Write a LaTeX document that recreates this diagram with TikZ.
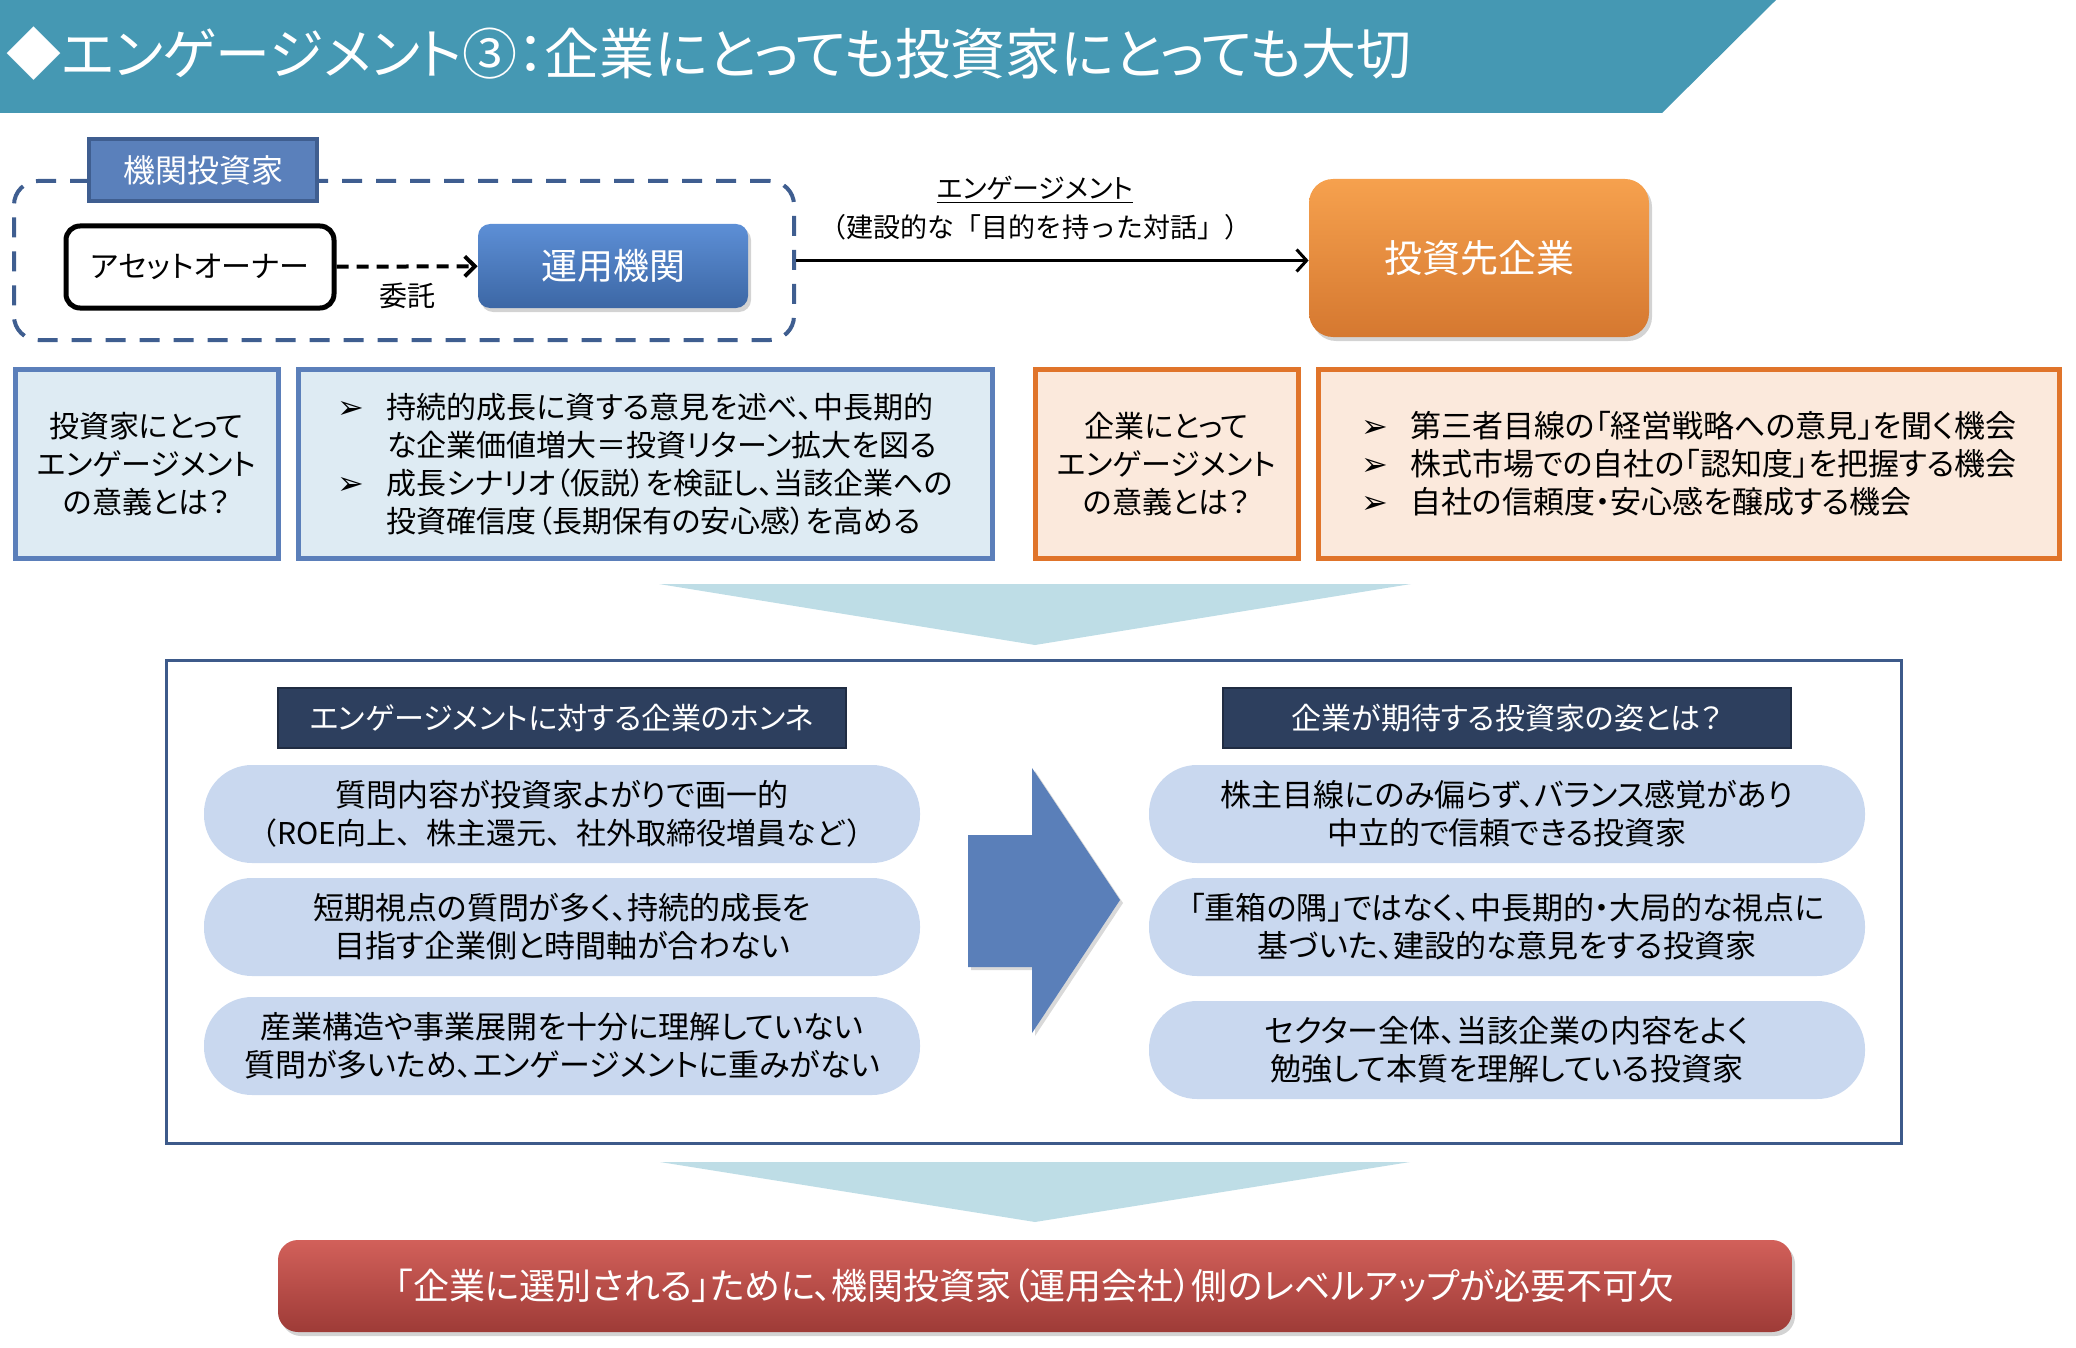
\documentclass[tikz,border=0pt]{standalone}
\usepackage{fontspec}
\setmainfont{Noto Sans CJK JP}[RawFeature=+palt]
\newfontfamily\fwfont{Noto Sans CJK JP}
\newfontfamily\dingfont{DejaVu Sans}
\usetikzlibrary{arrows.meta,shadows}
\definecolor{titleblue}{HTML}{4598B3}
\definecolor{grpline}{HTML}{3F5E90}
\definecolor{lblfill}{HTML}{5A80BB}
\definecolor{mgrtop}{HTML}{5D8FD6}
\definecolor{mgrbot}{HTML}{3C67A5}
\definecolor{firmtop}{HTML}{F6A14E}
\definecolor{firmbot}{HTML}{D57830}
\definecolor{invfill}{HTML}{DEEBF3}
\definecolor{invline}{HTML}{5B7FBA}
\definecolor{cofill}{HTML}{FBE9DC}
\definecolor{coline}{HTML}{E0742A}
\definecolor{chevcol}{HTML}{BEDDE6}
\definecolor{mainline}{HTML}{3D5A8A}
\definecolor{navy}{HTML}{2D3F5E}
\definecolor{pillcol}{HTML}{C9D8EF}
\definecolor{bigarrow}{HTML}{5A7FB9}
\definecolor{redtop}{HTML}{D2605A}
\definecolor{redmid}{HTML}{C24F4A}
\definecolor{redbot}{HTML}{9E3B37}
\newcommand{\fsz}[2]{\fontsize{#1}{#2}\selectfont}
\newcommand{\blt}{\makebox[24.5pt][l]{\dingfont\fsz{16pt}{19pt}➢}}
\newcommand{\ind}{\hspace*{24.5pt}}
\begin{document}
\begin{tikzpicture}[x=0.5pt, y=-0.5pt, font=\fsz{15pt}{19pt},
  qbox/.style={draw=invline, fill=invfill, line width=2.5pt, align=center, inner sep=0pt},
  cobox/.style={qbox, draw=coline, fill=cofill},
  hdr/.style={fill=navy, draw=navy!70!black, line width=1pt, text=white, minimum width=284pt, minimum height=30pt},
  pillbox/.style={fill=pillcol, rounded corners=24pt, minimum width=358pt, minimum height=49pt, align=center, font=\fsz{15.5pt}{19pt}},
  shad/.style={drop shadow={opacity=0.35, shadow xshift=1.5pt, shadow yshift=-2pt}}]
\useasboundingbox (0,0) rectangle (2076,1348);
% title bar
\fill[titleblue] (0,0) -- (1776,0) -- (1662,113) -- (0,113) -- cycle;
\node[anchor=west, text=white, font=\fsz{27.5pt}{32pt}, inner sep=0pt] (title) at (6,54) {◆エンゲージメント③：企業にとっても投資家にとっても大切};
% investor side
\node[draw=grpline, line width=2pt, dash pattern=on 10pt off 7pt, rounded corners=12pt, minimum width=390pt, minimum height=79.5pt] (grp) at (404,260.5) {};
\node[fill=lblfill, draw=grpline, line width=2pt, minimum width=114pt, minimum height=31pt, text=white, font=\fsz{16pt}{20pt}] (lbl) at (203,170.5) {機関投資家};
\node[draw, line width=2.5pt, rounded corners=7pt, fill=white, minimum width=134pt, minimum height=41pt, font=\fsz{15pt}{18pt}] (own) at (200,267) {アセットオーナー};
\node[shad, rounded corners=6pt, top color=mgrtop, bottom color=mgrbot, minimum width=135pt, minimum height=42pt, text=white, font=\fsz{18pt}{22pt}] (mgr) at (613,266) {運用機関};
\draw[line width=2pt, dash pattern=on 6pt off 4pt, -{Straight Barb[length=5pt,width=10pt]}] (own) -- (mgr) node[midway, below=4pt, font=\fsz{14pt}{18pt}] (dlg) {委託};
% company
\node[shad, rounded corners=12pt, top color=firmtop, bottom color=firmbot, minimum width=170pt, minimum height=79pt, text=white, font=\fsz{19pt}{23pt}] (firm) at (1479,258) {投資先企業};
\draw[line width=1.5pt, -{Straight Barb[length=5pt,width=11pt]}] (grp.east) -- (grp.east -| firm.west);
\node[font=\fsz{13.5pt}{19.5pt}, align=center] (eng) at (1035,208) {\underline{エンゲージメント}\\{\fwfont （建設的な「目的を持った対話」）}};
% meaning boxes
\node[qbox, minimum width=131.5pt, minimum height=94.5pt] (invq) at (146.5,464) {投資家にとって\\エンゲージメント\\の意義とは？};
\node[qbox, minimum width=347pt, minimum height=94.5pt, align=left] (invp) at (645.5,464) {\blt 持続的成長に資する意見を述べ、中長期的\\\ind な企業価値増大＝投資リターン拡大を図る\\\blt 成長シナリオ（仮説）を検証し、当該企業への\\\ind 投資確信度（長期保有の安心感）を高める};
\node[cobox, minimum width=131.5pt, minimum height=94.5pt] (coq) at (1166.5,464) {企業にとって\\エンゲージメント\\の意義とは？};
\node[cobox, minimum width=370.5pt, minimum height=94.5pt, align=left, font=\fsz{15.5pt}{19pt}] (cop) at (1689,464) {\blt 第三者目線の「経営戦略への意見」を聞く機会\\\blt 株式市場での自社の「認知度」を把握する機会\\\blt 自社の信頼度・安心感を醸成する機会};
\fill[chevcol] (659,584) -- (1411,584) -- (1035,645) -- cycle;
% real voice and expectations
\node[draw=mainline, line width=1.5pt, minimum width=867.5pt, minimum height=241.5pt] (core) at (1034,902) {};
\node[hdr] (hl) at (562,718) {エンゲージメントに対する企業のホンネ};
\node[hdr] (hr) at (1507,718) {企業が期待する投資家の姿とは？};
\node[pillbox] (l1) at (562,814) {質問内容が投資家よがりで画一的\\{\fwfont\fsz{15pt}{19pt}（ROE向上、株主還元、社外取締役増員など）}};
\node[pillbox] (l2) at (562,927) {短期視点の質問が多く、持続的成長を\\目指す企業側と時間軸が合わない};
\node[pillbox] (l3) at (562,1046) {産業構造や事業展開を十分に理解していない\\質問が多いため、エンゲージメントに重みがない};
\node[pillbox] (r1) at (1507,814) {株主目線にのみ偏らず、バランス感覚があり\\中立的で信頼できる投資家};
\node[pillbox] (r2) at (1507,927) {「重箱の隅」ではなく、中長期的・大局的な視点に\\基づいた、建設的な意見をする投資家};
\node[pillbox] (r3) at (1507,1050) {セクター全体、当該企業の内容をよく\\勉強して本質を理解している投資家};
\fill[bigarrow, drop shadow={opacity=0.3, shadow xshift=1.5pt, shadow yshift=-1.5pt}] (968,835) -- (1032,835) -- (1032,768) -- (1120,900) -- (1032,1033) -- (1032,967) -- (968,967) -- cycle;
\fill[chevcol] (660,1162) -- (1410,1162) -- (1035,1222) -- cycle;
% conclusion
\node[shad, rounded corners=10pt, top color=redtop, middle color=redmid, bottom color=redbot, minimum width=757pt, minimum height=46pt, text=white, font=\fsz{18pt}{22pt}] (concl) at (1035,1286) {「企業に選別される」ために、機関投資家（運用会社）側のレベルアップが必要不可欠};
\end{tikzpicture}
\end{document}
